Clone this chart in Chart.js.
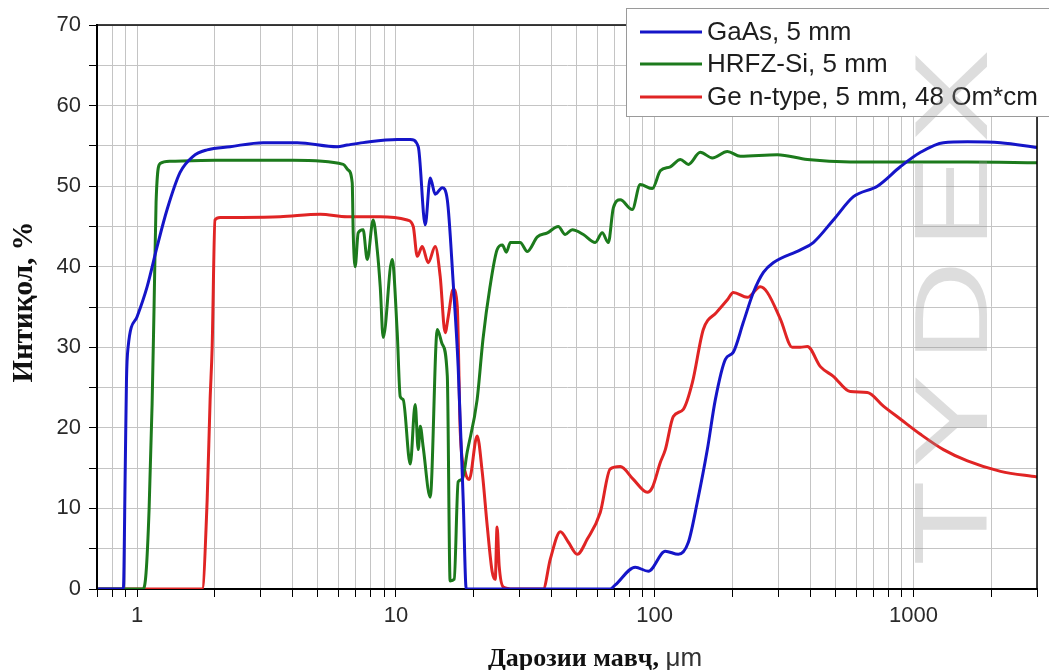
<!DOCTYPE html>
<html>
<head>
<meta charset="utf-8">
<script src="https://cdn.jsdelivr.net/npm/chart.js@4.4.1/dist/chart.umd.min.js"></script>
<style>
  html, body { margin: 0; padding: 0; background: #fff; }
  #wrap { width: 1049px; height: 670px; }
</style>
</head>
<body>
<div id="wrap"><canvas id="chart"></canvas></div>
<script>
// wavelength (um) and transmission (%)
const gaasX = [0.707, 0.885, 0.9, 0.91, 0.923, 1.0, 1.093, 1.195, 1.306, 1.466, 1.646, 1.865, 2.288, 3.07, 4.155, 5.93, 6.48, 7.47, 10.12, 11.36, 12.2, 12.98, 13.57, 14.19, 15.1, 15.8, 16.65, 17.4, 18.2, 18.7, 67.3, 70.4, 84.1, 94.5, 109.9, 123.4, 134.9, 146.1, 159.7, 171.5, 187.5, 201.3, 220, 240.5, 263, 287, 365.6, 410, 490, 586, 725, 889, 1064, 1305, 1616, 2168, 3000];
const gaasY = [0, 0, 15, 26, 30, 33.8, 37.5, 42.5, 47.1, 51.7, 53.7, 54.5, 54.9, 55.4, 55.4, 54.9, 55.1, 55.4, 55.8, 55.8, 54.9, 45.2, 51, 49, 49.8, 48.3, 38, 27.6, 11, 0, 0, 0.5, 2.7, 2.2, 4.7, 4.3, 5.8, 10.8, 17.3, 23.5, 28.5, 29.4, 33.1, 36.8, 39.3, 40.5, 42.1, 43, 45.8, 48.7, 50, 52.4, 54.2, 55.4, 55.5, 55.4, 54.8];

const siX = [0.707, 1.055, 1.083, 1.113, 1.143, 1.163, 1.184, 1.227, 1.341, 2, 4, 6.26, 6.54, 6.78, 6.84, 6.96, 7.15, 7.47, 7.75, 8.17, 8.47, 8.7, 8.93, 9.67, 10.12, 10.39, 10.67, 11.36, 11.87, 12.2, 12.42, 12.75, 13.57, 14.45, 15.1, 15.8, 16.2, 16.8, 17.4, 18.04, 18.86, 20.6, 21.7, 23.1, 24.6, 25.8, 26.7, 27.7, 30.2, 32.2, 35.2, 38.5, 42.4, 45.1, 48, 53, 58.9, 62.7, 66.2, 69.2, 73.6, 81.9, 87.9, 97.9, 105.1, 114.9, 125.7, 134.9, 150, 167, 190.9, 214.3, 297.8, 389, 570, 889, 1616, 3000];
const siY = [0, 0, 2, 10, 23, 35, 48, 52.8, 53.1, 53.2, 53.2, 52.7, 52, 50.4, 44.2, 40, 44.2, 44.6, 40.9, 45.8, 42.1, 37.5, 31.2, 40.9, 31.8, 23.9, 23.5, 15.5, 22.9, 17.3, 20.2, 17.6, 11.4, 32.2, 30.4, 26.4, 1, 1.2, 13.3, 13.6, 17, 23.5, 31, 37.5, 42.1, 42.7, 41.8, 43, 43, 41.9, 43.7, 44.2, 45, 44, 44.6, 44, 43, 44.2, 43, 47.3, 48.3, 47.1, 50.2, 49.7, 51.9, 52.4, 53.3, 52.7, 54.2, 53.5, 54.3, 53.7, 53.9, 53.3, 53, 53, 53, 52.9];

const geX = [0.707, 1.784, 1.865, 1.915, 1.95, 2.0, 2.094, 3.57, 5.1, 6.48, 8.7, 11.06, 11.67, 12.09, 12.64, 13.33, 14.19, 14.83, 15.5, 15.93, 16.65, 17.26, 17.73, 18.53, 19.2, 20.6, 21.56, 22.54, 23.56, 24.2, 24.6, 25.07, 26.0, 28.4, 37.1, 39.5, 43.2, 46.4, 50.2, 54.9, 61.6, 67.3, 73.6, 82.7, 93.6, 97.9, 105.1, 109.9, 118, 129, 139.8, 154.1, 173, 190.9, 201.3, 228, 255.9, 272.4, 305.9, 340.3, 365.4, 389, 436.7, 490, 570, 663, 765, 889, 1064, 1305, 1616, 2168, 3000];
const geY = [0, 0, 11, 23.5, 30, 45.8, 46.1, 46.2, 46.5, 46.2, 46.2, 45.8, 45, 41.3, 42.5, 40.5, 42.5, 38.8, 31.8, 33.8, 37.2, 35.1, 19.5, 14.5, 13.6, 19, 14.5, 7.8, 2.1, 1.2, 7.7, 2.8, 0.25, 0, 0, 3.7, 7.1, 5.8, 4.3, 6.2, 9.5, 14.9, 15.2, 13.6, 12, 12.6, 15.7, 17.3, 21.4, 22.3, 25.6, 32.2, 34.3, 35.9, 36.8, 36.2, 37.5, 36.8, 33.5, 30, 30, 30.1, 27.6, 26.4, 24.5, 24.4, 22.7, 21.1, 19.2, 17.3, 15.9, 14.6, 13.9];

const seriesNames = ['GaAs, 5 mm', 'HRFZ-Si, 5 mm', 'Ge n-type, 5 mm, 48 Om*cm'];
const seriesColors = ['#1515c8', '#1c7a1c', '#e02424'];
const xLabelled = [1, 10, 100, 1000];
const xTitle = 'Дарозии мавҷ, ';
const xUnit = 'μm';
const yTitle = 'Интиқол, %';

function toPoints(xs, ys) {
  return xs.map((x, i) => ({ x: x, y: ys[i] }));
}

// minor log ticks: 1..9 in each decade
const xTickVals = [];
for (let d = 0.1; d <= 1000; d *= 10) {
  for (let m = 1; m <= 9; m++) {
    const v = Number((m * d).toPrecision(6));
    if (v >= 0.7 && v <= 3000) xTickVals.push(v);
  }
}

const decorPlugin = {
  id: 'decor',
  afterDraw(chart) {
    const ctx = chart.ctx;
    const a = chart.chartArea;
    ctx.save();
    // top and right frame
    ctx.strokeStyle = '#000';
    ctx.lineWidth = 1.5;
    ctx.beginPath();
    ctx.moveTo(a.left, a.top);
    ctx.lineTo(a.right, a.top);
    ctx.lineTo(a.right, a.bottom);
    ctx.stroke();

    // legend box
    ctx.fillStyle = '#fff';
    ctx.fillRect(626, 8, 430, 109);
    ctx.strokeStyle = '#9a9a9a';
    ctx.lineWidth = 1;
    ctx.strokeRect(626.5, 8.5, 430, 108);
    const rows = [32, 64, 97];
    ctx.font = '26px "Liberation Sans", Arial, sans-serif';
    ctx.textBaseline = 'middle';
    ctx.textAlign = 'left';
    seriesNames.forEach((name, i) => {
      ctx.strokeStyle = seriesColors[i];
      ctx.lineWidth = 3;
      ctx.beginPath();
      ctx.moveTo(640, rows[i]);
      ctx.lineTo(702, rows[i]);
      ctx.stroke();
      ctx.fillStyle = '#1e1e1e';
      ctx.fillText(name, 707, rows[i] + 1);
    });

    // y axis title
    ctx.save();
    ctx.translate(32, 302);
    ctx.rotate(-Math.PI / 2);
    ctx.font = 'bold 29px "Liberation Serif", "Times New Roman", serif';
    ctx.fillStyle = '#111';
    ctx.textAlign = 'center';
    ctx.textBaseline = 'alphabetic';
    ctx.fillText(yTitle, 0, 0);
    ctx.restore();

    // x axis title: bold serif words + sans unit
    ctx.textBaseline = 'alphabetic';
    ctx.textAlign = 'left';
    const f1 = 'bold 26px "Liberation Serif", "Times New Roman", serif';
    const f2 = '26px "Liberation Sans", Arial, sans-serif';
    ctx.font = f1;
    const w1 = ctx.measureText(xTitle).width;
    ctx.font = f2;
    const w2 = ctx.measureText(xUnit).width;
    const x0 = 595 - (w1 + w2) / 2;
    ctx.fillStyle = '#111';
    ctx.font = f1;
    ctx.fillText(xTitle, x0, 666);
    ctx.font = f2;
    ctx.fillStyle = '#333';
    ctx.fillText(xUnit, x0 + w1, 666);

    // watermark
    ctx.save();
    ctx.translate(987, 566);
    ctx.rotate(-Math.PI / 2);
    ctx.scale(1.35, 1);
    ctx.font = '104px "Liberation Sans", Arial, sans-serif';
    ctx.letterSpacing = '9px';
    ctx.fillStyle = 'rgba(150,150,150,0.32)';
    ctx.textAlign = 'left';
    ctx.textBaseline = 'alphabetic';
    ctx.fillText('TYDEX', 0, 0);
    ctx.restore();

    ctx.restore();
  }
};

const tickFont = { family: '"Liberation Sans", Arial, sans-serif', size: 22 };

new Chart(document.getElementById('chart'), {
  type: 'line',
  data: {
    datasets: [
      { label: seriesNames[0], data: toPoints(gaasX, gaasY), borderColor: seriesColors[0] },
      { label: seriesNames[1], data: toPoints(siX, siY), borderColor: seriesColors[1] },
      { label: seriesNames[2], data: toPoints(geX, geY), borderColor: seriesColors[2] }
    ]
  },
  options: {
    responsive: true,
    maintainAspectRatio: false,
    animation: false,
    layout: { padding: { top: 25, right: 12, left: 0, bottom: 0 } },
    elements: {
      point: { radius: 0 },
      line: { borderWidth: 3, cubicInterpolationMode: 'monotone', fill: false }
    },
    plugins: {
      legend: { display: false },
      tooltip: { enabled: false }
    },
    scales: {
      x: {
        type: 'logarithmic',
        min: 0.7,
        max: 3000,
        afterFit: (s) => { s.height = 81; },
        afterBuildTicks: (s) => { s.ticks = xTickVals.map(v => ({ value: v })); },
        ticks: {
          autoSkip: false,
          maxRotation: 0,
          padding: 6,
          color: '#2a2a2a',
          font: tickFont,
          callback: (v) => xLabelled.includes(v) ? String(v) : ''
        },
        grid: { color: '#c4c4c4', lineWidth: 1, tickColor: '#000', tickLength: 8 },
        border: { color: '#000', width: 2 }
      },
      y: {
        min: 0,
        max: 70,
        afterFit: (s) => { s.width = 97; },
        ticks: {
          stepSize: 5,
          padding: 8,
          color: '#2a2a2a',
          font: tickFont,
          callback: (v) => v % 10 === 0 ? String(v) : ''
        },
        grid: { color: '#c4c4c4', lineWidth: 1, tickColor: '#000', tickLength: 8 },
        border: { color: '#000', width: 2 }
      }
    }
  },
  plugins: [decorPlugin]
});
</script>
</body>
</html>
